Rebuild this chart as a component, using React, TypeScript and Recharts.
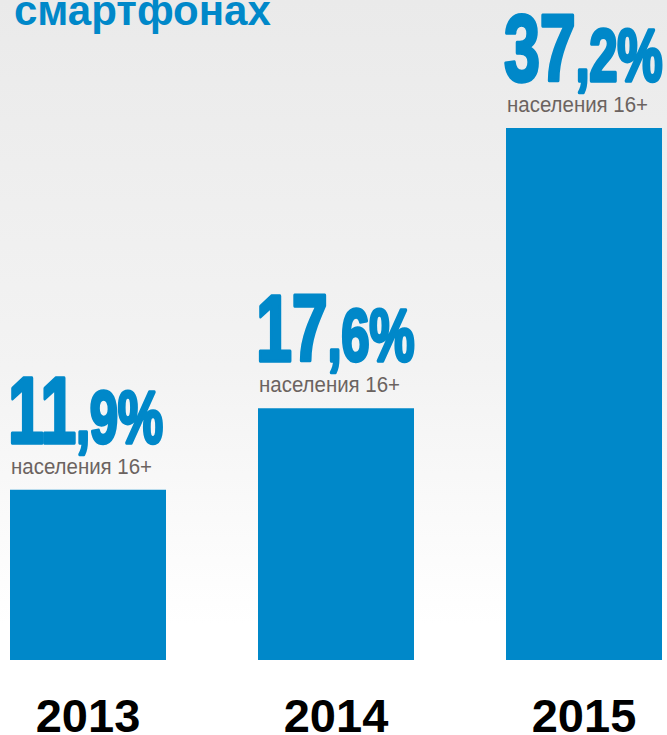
import { BarChart, Bar, XAxis, YAxis, LabelList } from "recharts";

const years = ["2013", "2014", "2015"];
const shares = [11.9, 17.6, 37.2];
const subLabel = "населения 16+";
const title = "смартфонах";

const BLUE = "#0088c9";

const chartData = years.map((year, i) => ({ year, share: shares[i] }));

function ValueLabel(props: any) {
    const { x, y, value } = props;
    const [whole, frac] = String(value).split(".");
    const sx = Number(x);
    const sy = Number(y);
    return (
        <g>
            <text
                transform={`translate(${sx - 2}, ${sy - 47}) scale(0.69, 1)`}
                x={0}
                y={0}
                fill={BLUE}
                stroke={BLUE}
                strokeWidth={3.5}
                strokeLinejoin="round"
                fontFamily="'Liberation Sans Narrow', 'Arial Narrow', 'Liberation Sans', sans-serif"
                fontWeight={700}
                letterSpacing={-0.5}
            >
                <tspan fontSize={94}>{whole}</tspan>
                <tspan fontSize={74}>{"," + frac + "%"}</tspan>
            </text>
            <text
                transform={`translate(${sx + 1}, ${sy - 16}) scale(0.93, 1)`}
                x={0}
                y={0}
                fill="#6b6360"
                fontFamily="'Liberation Sans', Arial, sans-serif"
                fontSize={22}
            >
                {subLabel}
            </text>
        </g>
    );
}

export default function App() {
    return (
        <div
            style={{
                position: "absolute",
                left: 0,
                top: 0,
                width: 667,
                height: 735,
                overflow: "hidden",
                background: "linear-gradient(to bottom, #eaeaea 0%, #f3f3f3 50%, #ffffff 85%)",
                fontFamily: "'Liberation Sans', Arial, sans-serif",
            }}
        >
            <div
                style={{
                    position: "absolute",
                    left: 14,
                    top: -14,
                    fontSize: 42,
                    fontWeight: 700,
                    color: BLUE,
                    lineHeight: "50px",
                }}
            >
                {title}
            </div>
            <div style={{ position: "absolute", left: -36, top: 0 }}>
                <BarChart
                    width={744}
                    height={735}
                    data={chartData}
                    margin={{ top: 88, right: 0, bottom: 0, left: 0 }}
                >
                    <XAxis
                        dataKey="year"
                        height={75}
                        axisLine={false}
                        tickLine={false}
                        tickMargin={33}
                        tick={{ fontSize: 47, fontWeight: 700, fill: "#000" }}
                    />
                    <YAxis hide domain={[0, 40]} />
                    <Bar dataKey="share" fill={BLUE} barSize={156} isAnimationActive={false}>
                        <LabelList dataKey="share" content={<ValueLabel />} />
                    </Bar>
                </BarChart>
            </div>
        </div>
    );
}
